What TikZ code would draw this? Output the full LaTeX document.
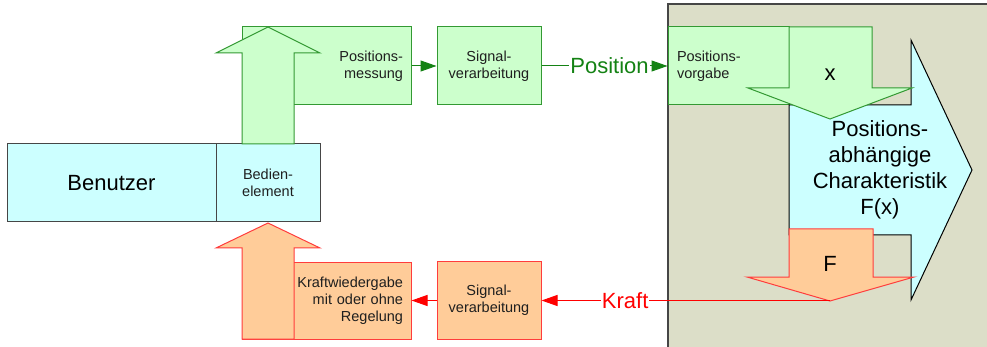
\documentclass[tikz,border=0pt]{standalone}
\usepackage{fontspec}
\setmainfont{Liberation Sans}
\usepackage{tikz}
\usetikzlibrary{arrows.meta, calc, positioning}
\usepackage{xcolor}
\definecolor{bgGray}{RGB}{220,222,200}
\definecolor{frameGray}{RGB}{70,70,70}
\definecolor{cyanFill}{RGB}{204,255,255}
\definecolor{greenFill}{RGB}{204,255,204}
\definecolor{greenLine}{RGB}{51,153,51}
\definecolor{greenArr}{RGB}{20,130,20}
\definecolor{peachFill}{RGB}{255,204,153}
\definecolor{redLine}{RGB}{255,60,60}
\definecolor{redArr}{RGB}{255,0,0}
\tikzset{
  userbox/.style ={draw=frameGray, fill=cyanFill, line width=1pt, inner sep=0pt},
  gbox/.style    ={draw=greenLine, fill=greenFill, line width=1pt, inner sep=0pt},
  rbox/.style    ={draw=redLine, fill=peachFill, line width=1pt, inner sep=0pt},
  garrow/.style  ={draw=greenLine, fill=greenFill, line width=1pt},        % big block arrow, green
  rarrow/.style  ={draw=redLine, fill=peachFill, line width=1pt},          % big block arrow, red
  carrow/.style  ={draw=black, fill=cyanFill, line width=1pt},
  small/.style   ={font=\fontsize{14.5}{17}\selectfont, text=black!88},
  big/.style     ={font=\fontsize{22}{26}\selectfont, text=black},
  sig/.style     ={-{Triangle[length=16pt, width=11pt]}, line width=1pt},  % signal line
  lbl/.style     ={font=\fontsize{22}{26}\selectfont, fill=white, inner sep=1pt},
}

\begin{document}
\begin{tikzpicture}[x=1pt, y=-1pt]
  \useasboundingbox (0,0) rectangle (987,347);

  % RIGHT: device area
  \fill[bgGray] (668,4) rectangle (992,352);
  \draw[frameGray, line width=1.3pt] (668,352) -- (668,4) -- (992,4);

  % LEFT: user and control element
  \node[userbox, big, minimum width=209pt, minimum height=78pt] (user) at (111.5,183) {Benutzer};
  \node[userbox, small, minimum width=104pt, minimum height=78pt, align=center] (bed) at (268,183) {Bedien-\\element};

  % position path (top)
  \node[gbox, small, minimum width=169pt, minimum height=78pt, text width=153pt, align=right] (pm) at (326.5,66) {Positions-\\messung};
  \draw[garrow] (242,144) -- (242,53) -- (216,53) -- (268,27) -- (320,53) -- (294,53) -- (294,144) -- cycle;
  \node[gbox, small, minimum width=104pt, minimum height=78pt, align=center] (sv1) at (489,66) {Signal-\\verarbeitung};
  \node[gbox, small, minimum width=121pt, minimum height=78pt, text width=103pt, align=left] (pv) at (728.5,66) {Positions-\\vorgabe};
  \draw[sig, greenArr] (pm) -- (sv1);
  \draw[sig, greenArr] (sv1) -- (pv) node[lbl, text=greenArr, pos=0.54] {Position};

  % characteristic
  \draw[carrow] (789,105) -- (911,105) -- (911,40) -- (972,170) -- (911,300) -- (911,235) -- (789,235) -- cycle;
  \node[big, align=center] (charak) at (880,170) {Positions-\\abhängige\\Charakteristik\\F(x)};
  \draw[garrow] (789,27) -- (872,27) -- (872,88) -- (912,88) -- (830,119) -- (748,88) -- (789,88) -- cycle;
  \node[big] (xin) at (830,75) {x};
  \draw[rarrow] (789,229) -- (873,229) -- (873,277) -- (914,277) -- (830,301) -- (747,277) -- (789,277) -- cycle;
  \node[big] (fout) at (830,264) {F};
  \coordinate (fTip) at (830,300.5);

  % force path (bottom)
  \node[rbox, small, minimum width=169pt, minimum height=77pt, text width=153pt, align=right] (kw) at (326.5,300.5) {Kraftwiedergabe\\mit oder ohne\\Regelung};
  \draw[rarrow] (242,339) -- (242,248) -- (216,248) -- (268,223) -- (320,248) -- (294,248) -- (294,339) -- cycle;
  \node[rbox, small, minimum width=104pt, minimum height=78pt, align=center] (sv2) at (489,300.5) {Signal-\\verarbeitung};
  \draw[sig, redArr] (fTip) -- (sv2) node[lbl, text=redArr, pos=0.71] {Kraft};
  \draw[sig, redArr] (sv2) -- (kw);
\end{tikzpicture}
\end{document}
